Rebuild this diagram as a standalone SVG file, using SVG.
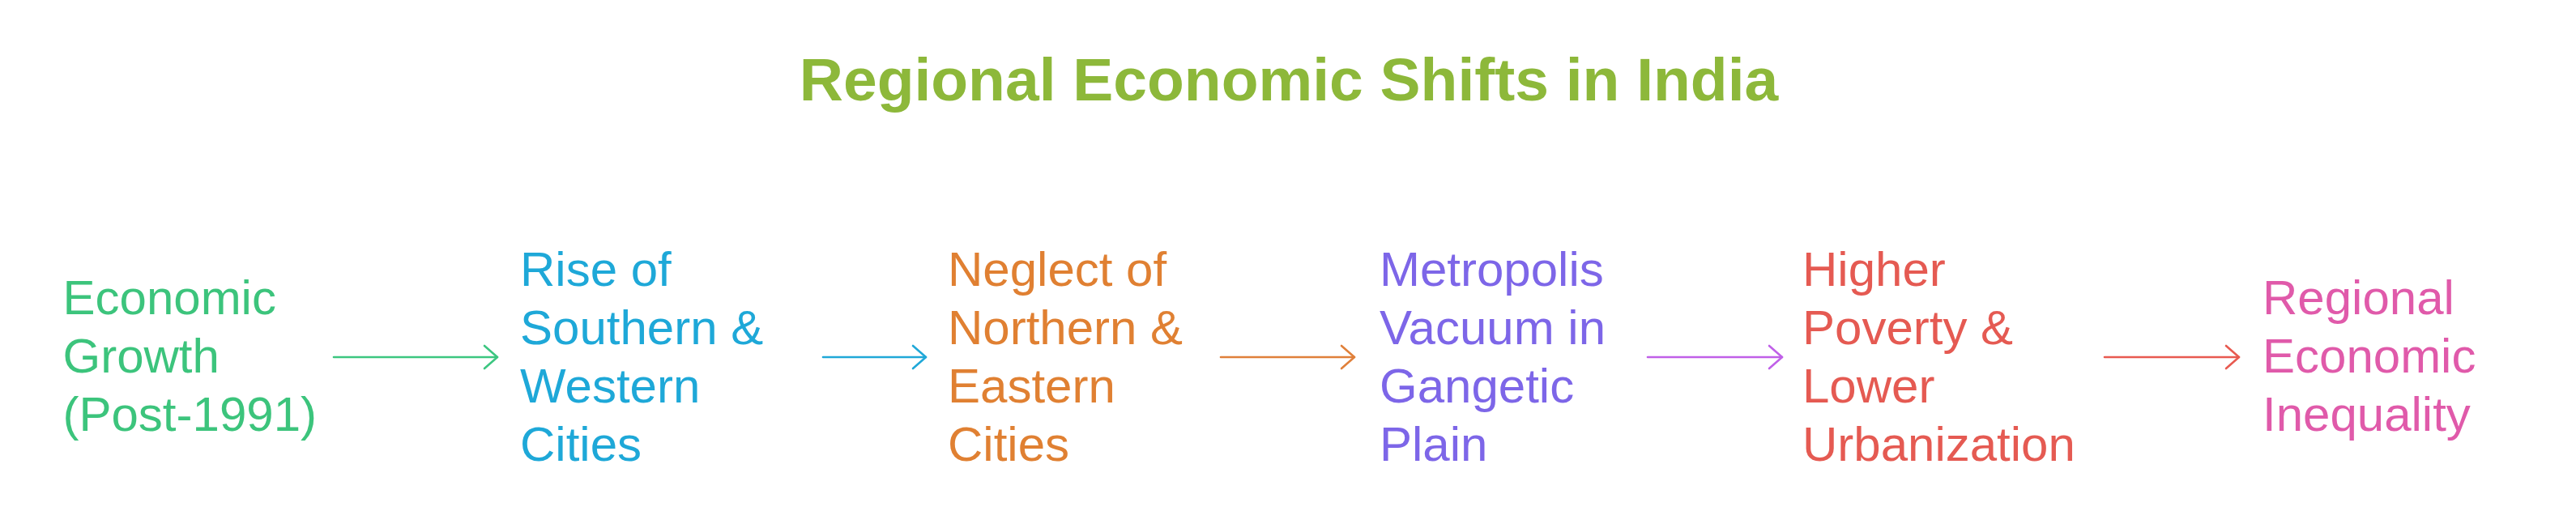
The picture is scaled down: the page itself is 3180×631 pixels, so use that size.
<svg xmlns="http://www.w3.org/2000/svg" width="3180" height="631" viewBox="0 0 3180 631">
<style>
.t{font-family:"Liberation Sans",Arial,sans-serif;font-size:60px}
.title{font-family:"Liberation Sans",Arial,sans-serif;font-size:75px;font-weight:bold;fill:#8DB83A}
.c{fill:none;stroke-width:2.6;stroke-linecap:round;stroke-linejoin:round}
</style>
<rect width="3180" height="631" fill="#ffffff"/>
<text id="title" class="title" x="1591" y="124" text-anchor="middle">Regional Economic Shifts in India</text>
<g id="connectors">
<g stroke="#3CC680" class="c"><path d="M412 441H614"/><path d="M598 427L614 441L598 455"/></g>
<g stroke="#20A8D8" class="c"><path d="M1016 441H1143"/><path d="M1127 427L1143 441L1127 455"/></g>
<g stroke="#E0803A" class="c"><path d="M1507 441H1672"/><path d="M1656 427L1672 441L1656 455"/></g>
<g stroke="#C060E8" class="c"><path d="M2034 441H2200"/><path d="M2184 427L2200 441L2184 455"/></g>
<g stroke="#E85A50" class="c"><path d="M2598 441H2764"/><path d="M2748 427L2764 441L2748 455"/></g>
</g>
<g id="n1" fill="#3CC47C"><text class="t" x="77.5" y="388">Economic</text><text class="t" x="77.5" y="460">Growth</text><text class="t" x="77.5" y="532">(Post-1991)</text></g>
<g id="n2" fill="#1EA8D8"><text class="t" x="642" y="353">Rise of</text><text class="t" x="642" y="425">Southern &amp;</text><text class="t" x="642" y="497">Western</text><text class="t" x="642" y="569">Cities</text></g>
<g id="n3" fill="#E08032"><text class="t" x="1170" y="353">Neglect of</text><text class="t" x="1170" y="425">Northern &amp;</text><text class="t" x="1170" y="497">Eastern</text><text class="t" x="1170" y="569">Cities</text></g>
<g id="n4" fill="#7D66E8"><text class="t" x="1703" y="353">Metropolis</text><text class="t" x="1703" y="425">Vacuum in</text><text class="t" x="1703" y="497">Gangetic</text><text class="t" x="1703" y="569">Plain</text></g>
<g id="n5" fill="#E55A52"><text class="t" x="2225" y="353">Higher</text><text class="t" x="2225" y="425">Poverty &amp;</text><text class="t" x="2225" y="497">Lower</text><text class="t" x="2225" y="569">Urbanization</text></g>
<g id="n6" fill="#E05AAA"><text class="t" x="2793" y="388">Regional</text><text class="t" x="2793" y="460">Economic</text><text class="t" x="2793" y="532">Inequality</text></g>
</svg>
